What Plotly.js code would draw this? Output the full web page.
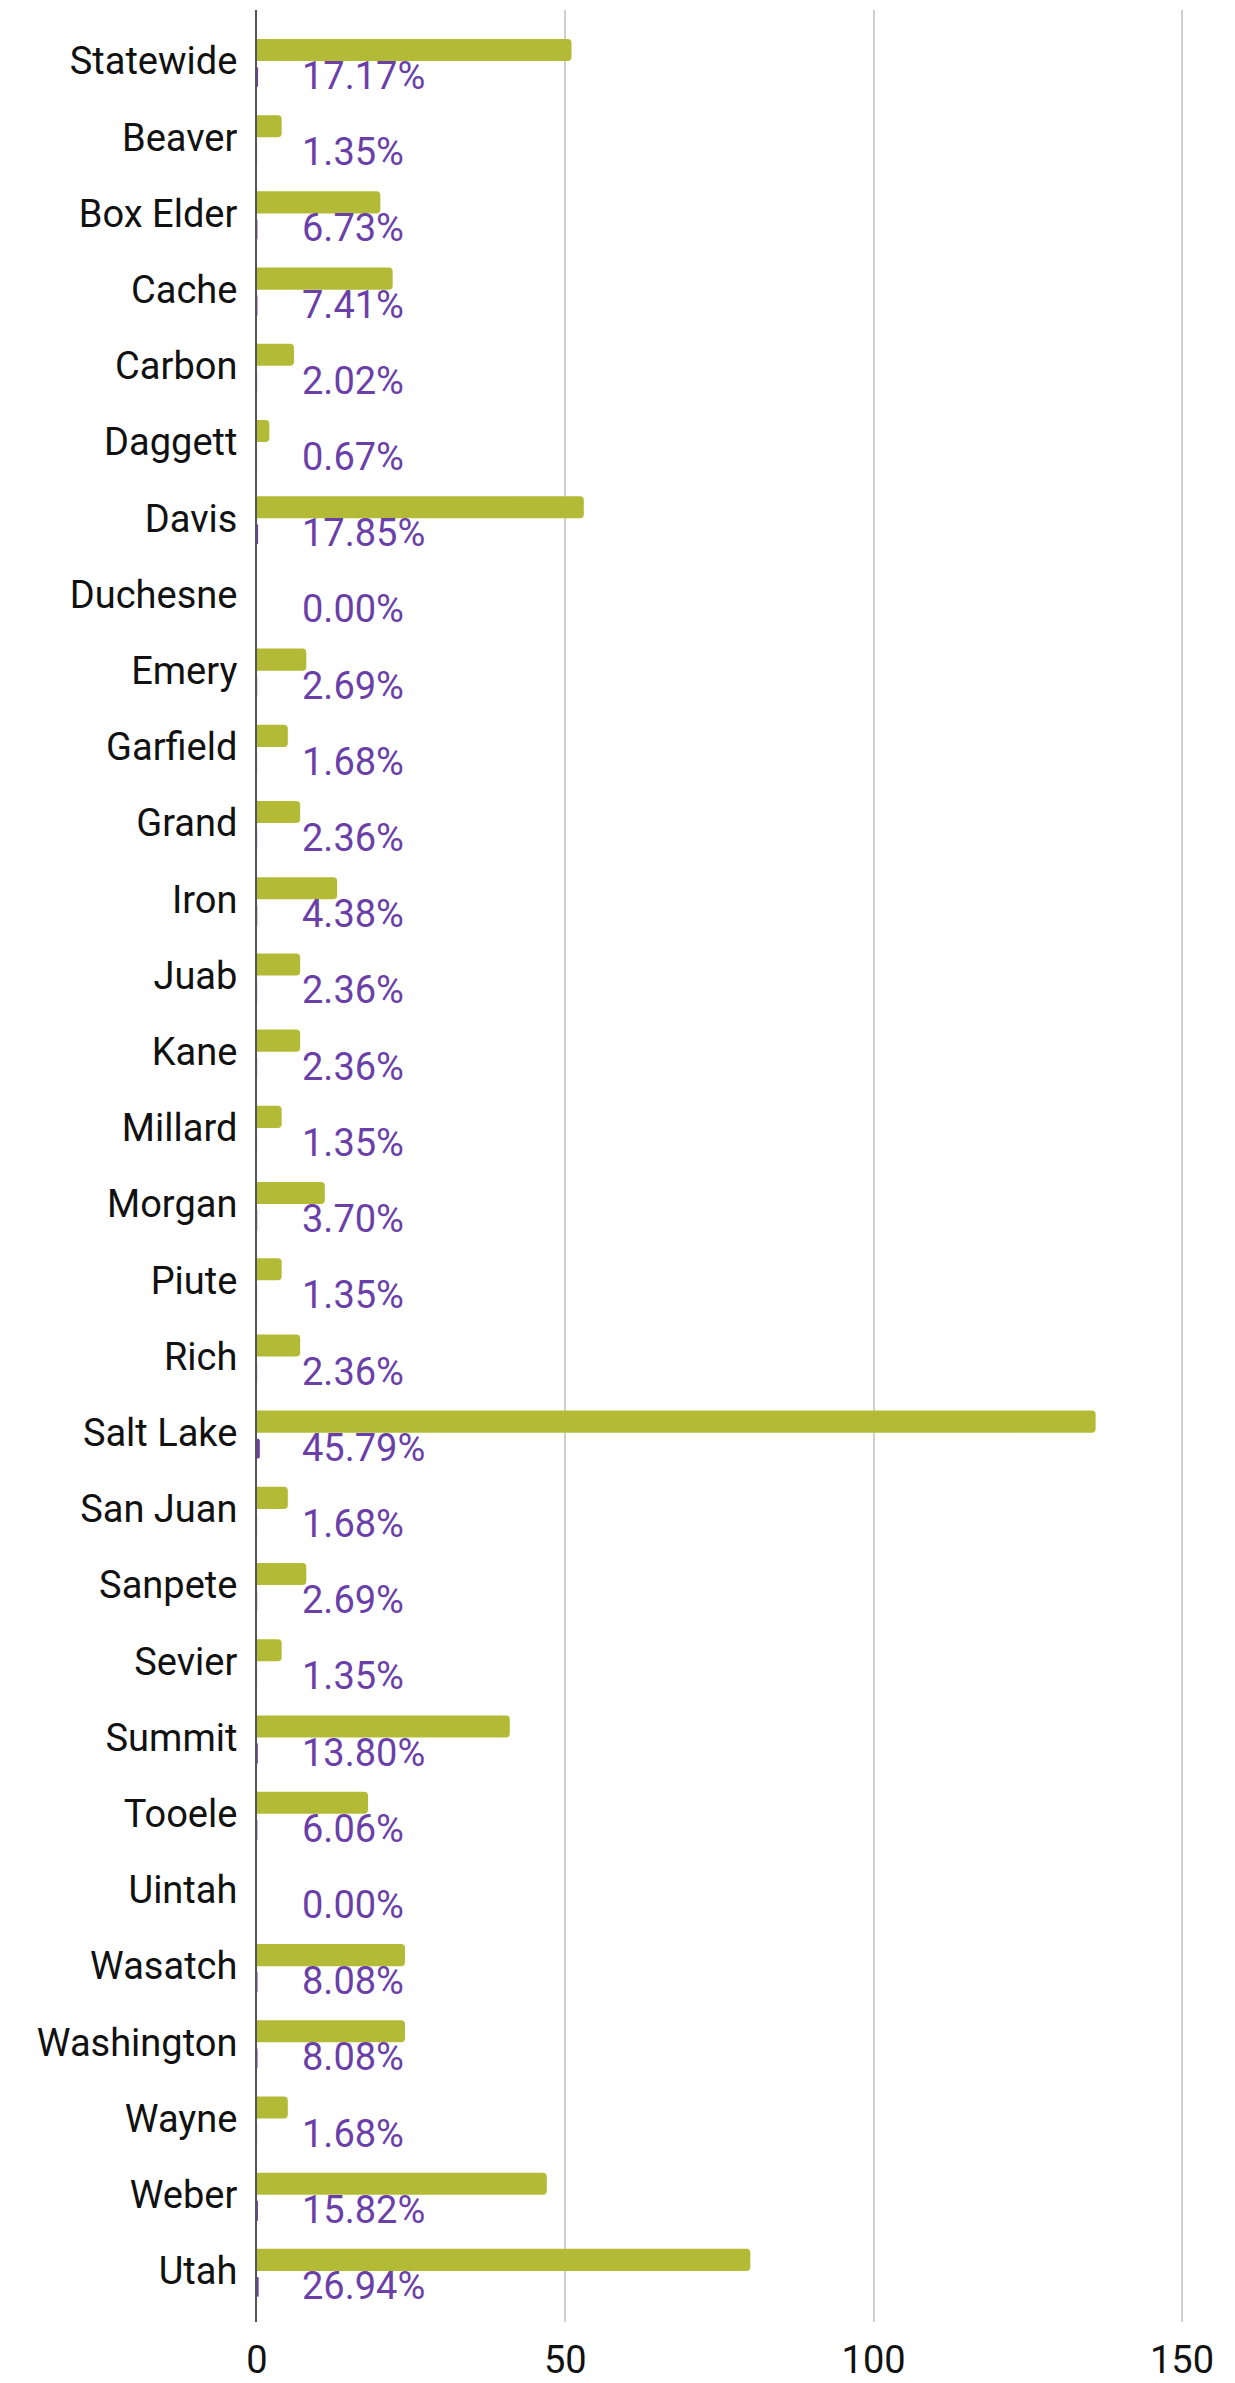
<!DOCTYPE html>
<html>
<head>
<meta charset="utf-8">
<script src="https://cdn.plot.ly/plotly-3.0.1.min.js"></script>
<style>html,body{margin:0;padding:0;background:#fff;}#chart{width:1235px;height:2383px;}</style>
</head>
<body>
<div id="chart"></div>
<script>
const counties = ["Statewide","Beaver","Box Elder","Cache","Carbon","Daggett","Davis","Duchesne","Emery","Garfield","Grand","Iron","Juab","Kane","Millard","Morgan","Piute","Rich","Salt Lake","San Juan","Sanpete","Sevier","Summit","Tooele","Uintah","Wasatch","Washington","Wayne","Weber","Utah"];
const counts = [51,4,20,22,6,2,53,0,8,5,7,13,7,7,4,11,4,7,136,5,8,4,41,18,0,24,24,5,47,80];
const shares = [0.1717,0.0135,0.0673,0.0741,0.0202,0.0067,0.1785,0.0000,0.0269,0.0168,0.0236,0.0438,0.0236,0.0236,0.0135,0.0370,0.0135,0.0236,0.4579,0.0168,0.0269,0.0135,0.1380,0.0606,0.0000,0.0808,0.0808,0.0168,0.1582,0.2694];
const shareLabels = ["17.17%","1.35%","6.73%","7.41%","2.02%","0.67%","17.85%","0.00%","2.69%","1.68%","2.36%","4.38%","2.36%","2.36%","1.35%","3.70%","1.35%","2.36%","45.79%","1.68%","2.69%","1.35%","13.80%","6.06%","0.00%","8.08%","8.08%","1.68%","15.82%","26.94%"];
const xTicks = [0,50,100,150];

const green = "#b3bb36";
const purple = "#6b3fa8";

const traces = [
  {type:"bar", orientation:"h", y:counties, x:counts, marker:{color:green},
   offset:-0.29, width:0.29, hoverinfo:"x+y", name:"Count"},
  {type:"bar", orientation:"h", y:counties, x:shares, marker:{color:purple},
   offset:0.08, width:0.26, hoverinfo:"x+y", name:"Share"}
];

const annotations = counties.map((c,i)=>({
  xref:"x", yref:"y", x:0, y:c, text:shareLabels[i],
  xanchor:"left", yanchor:"middle", showarrow:false,
  xshift:43, yshift:-15,
  font:{family:"Roboto, sans-serif", size:38, color:purple}
}));

const layout = {
  width:1235, height:2383,
  margin:{l:257, r:0, t:10, b:61},
  paper_bgcolor:"#fff", plot_bgcolor:"#fff",
  showlegend:false,
  barmode:"group",
  barcornerradius:4,
  xaxis:{range:[0,158.6], tickvals:xTicks, ticktext:xTicks.map(String),
    showgrid:true, gridcolor:"#cfcfcf", gridwidth:2, zeroline:false, showline:false,
    ticks:"", ticklabelstandoff:12,
    tickfont:{family:"Roboto, sans-serif", size:38, color:"#111"}},
  yaxis:{range:[29.67,-0.67], type:"category", showgrid:false, zeroline:false,
    showline:true, linecolor:"#555", linewidth:2, ticks:"", ticklabelstandoff:10,
    tickfont:{family:"Roboto, sans-serif", size:38, color:"#111"}},
  annotations:annotations,
  font:{family:"Roboto, sans-serif"}
};

Plotly.newPlot("chart", traces, layout, {displayModeBar:false, staticPlot:true});
</script>
</body>
</html>
